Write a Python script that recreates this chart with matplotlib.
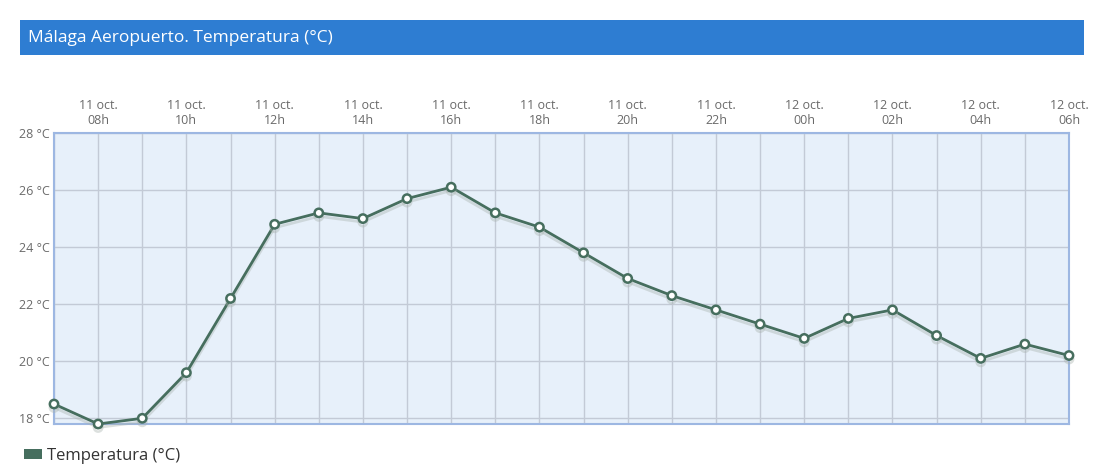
import matplotlib
matplotlib.use("Agg")
import matplotlib.pyplot as plt
import matplotlib.patheffects as pe
from matplotlib.patches import Patch, Rectangle

plt.rcParams['font.family'] = ['Open Sans', 'DejaVu Sans']

# hourly data, 11 oct 07h -> 12 oct 06h
hours = ['07h', '08h', '09h', '10h', '11h', '12h', '13h', '14h', '15h', '16h', '17h', '18h',
         '19h', '20h', '21h', '22h', '23h', '00h', '01h', '02h', '03h', '04h', '05h', '06h']
days = ['11 oct.'] * 17 + ['12 oct.'] * 7
temps = [18.5, 17.8, 18.0, 19.6, 22.2, 24.8, 25.2, 25.0, 25.7, 26.1, 25.2, 24.7,
         23.8, 22.9, 22.3, 21.8, 21.3, 20.8, 21.5, 21.8, 20.9, 20.1, 20.6, 20.2]
yticks = [18, 20, 22, 24, 26, 28]

line_col = '#466e5e'
x = list(range(len(temps)))

fig = plt.figure(figsize=(11, 4.76), dpi=100)
ax = fig.add_axes([54/1100, 1-424/476, 1015/1100, 291/476])
ax.set_facecolor('#e7f0fa')

ax.plot(x, temps, color=line_col, lw=2, marker='o', ms=6, mfc='white', mec=line_col, mew=1.8,
        zorder=3, clip_on=False,
        path_effects=[pe.SimpleLineShadow(offset=(0, -2.5), shadow_color='#a8b2ad', alpha=0.4),
                      pe.Normal()])

ax.set_xlim(0, len(temps) - 1)
ax.set_ylim(17.8, 28)
ax.set_xticks(x)
ax.set_xticklabels([d + '\n' + h if i % 2 == 1 else '' for i, (d, h) in enumerate(zip(days, hours))])
ax.xaxis.tick_top()
ax.set_yticks(yticks)
ax.set_yticklabels(['%d °C' % v for v in yticks])
ax.tick_params(length=0, labelsize=9, labelcolor='#6a6a6a', pad=4)
ax.tick_params(axis='y', pad=3)
ax.grid(True, color='#c3cad6', lw=1)
ax.set_axisbelow(True)
for s in ax.spines.values():
    s.set_color('#9db7e2')
    s.set_linewidth(1.5)

# title bar
fig.patches.append(Rectangle((20/1100, 1-55/476), 1064/1100, 35/476, transform=fig.transFigure,
                             facecolor='#2e7dd2', edgecolor='none'))
fig.text(28/1100, 1-38/476, 'Málaga Aeropuerto. Temperatura (°C)', color='white', fontsize=12.5,
         va='center', ha='left')

fig.legend(handles=[Patch(facecolor=line_col, edgecolor='none')], labels=['Temperatura (°C)'],
           loc='center left', bbox_to_anchor=(9/1100, 1-456/476), frameon=False, fontsize=12,
           handlelength=1.1, handleheight=0.6, handletextpad=0.3, labelcolor='#333333')

fig.savefig('out.png', dpi=100, facecolor='white')
